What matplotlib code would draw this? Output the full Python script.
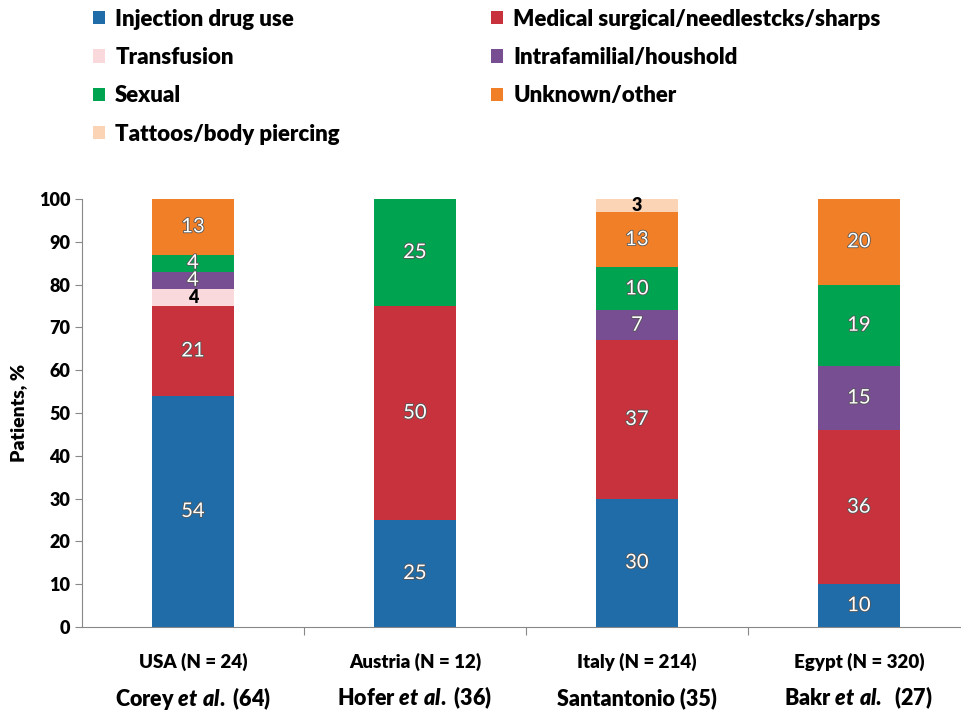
import numpy as np
import matplotlib
matplotlib.use("Agg")
import matplotlib.pyplot as plt
import matplotlib.patheffects as pe

plt.rcParams['font.family'] = ['Lato', 'DejaVu Sans']
plt.rcParams['mathtext.fontset'] = 'custom'
plt.rcParams['mathtext.rm'] = 'Lato:heavy'
plt.rcParams['mathtext.it'] = 'Lato:italic:heavy'

countries = ['USA (N = 24)', 'Austria (N = 12)', 'Italy (N = 214)', 'Egypt (N = 320)']
studies = [r'Corey $\mathit{et\ al.}$ (64)', r'Hofer $\mathit{et\ al.}$ (36)',
           'Santantonio (35)', r'Bakr $\mathit{et\ al.}$  (27)']

routes = ['Injection drug use', 'Medical surgical/needlestcks/sharps', 'Transfusion',
          'Intrafamilial/houshold', 'Sexual', 'Unknown/other', 'Tattoos/body piercing']
idu = [54, 25, 30, 10]
medical = [21, 50, 37, 36]
transfusion = [4, 0, 0, 0]
intrafamilial = [4, 0, 7, 15]
sexual = [4, 25, 10, 19]
unknown = [13, 0, 13, 20]
tattoos = [0, 0, 3, 0]
series = [idu, medical, transfusion, intrafamilial, sexual, unknown, tattoos]

colors = ['#1f6ca8', '#c8323c', '#f9d9dc', '#774e91', '#00a34f', '#f07f27', '#fbd4b6']
dark_label = [False, False, True, False, False, False, True]
BOLD = 'heavy'

fig = plt.figure(figsize=(9.61, 7.12), dpi=100)
ax = fig.add_axes([82/961, 85/712, 879/961, 428/712])

x = np.arange(len(countries))
bottom = np.zeros(len(countries))
bars = []
for vals, col, dark in zip(series, colors, dark_label):
    vals = np.array(vals, dtype=float)
    b = ax.bar(x, vals, 0.37, bottom=bottom, color=col)
    bars.append(b)
    for xi, v, b0 in zip(x, vals, bottom):
        if v <= 0:
            continue
        if dark:
            ax.text(xi, b0 + v / 2, f'{int(v)}', ha='center', va='center',
                    fontsize=13, fontweight=BOLD, color='black')
        else:
            ax.text(xi, b0 + v / 2, f'{int(v)}', ha='center', va='center',
                    fontsize=14.5, color='white',
                    path_effects=[pe.withStroke(linewidth=1.2, foreground='#555555')])
    bottom += vals

ax.set_xlim(-0.5, 3.46)
ax.set_ylim(0, 100)
ax.set_yticks(np.arange(0, 101, 10))
ax.tick_params(axis='y', labelsize=13, direction='out', length=5, color='#888888')
for lbl in ax.get_yticklabels():
    lbl.set_fontweight(BOLD)
ax.set_xticks([0.5, 1.5, 2.5])
ax.set_xticklabels([])
ax.tick_params(axis='x', direction='out', length=6, color='#888888')
for s in ['top', 'right']:
    ax.spines[s].set_visible(False)
for s in ['left', 'bottom']:
    ax.spines[s].set_color('#888888')

ax.set_ylabel('Patients, %', fontsize=14, fontweight=BOLD, labelpad=8)

for xi, c, s in zip(x, countries, studies):
    ax.text(xi, -8.2, c, ha='center', va='center', fontsize=13.5, fontweight=BOLD)
    ax.text(xi, -16.6, s, ha='center', va='center', fontsize=15.5, fontweight=BOLD)

order = [0, 2, 4, 6, 1, 3, 5]
fig.legend([bars[i] for i in order], [routes[i] for i in order], ncol=2,
           loc='upper left', bbox_to_anchor=(73/961, 1.016), frameon=False,
           prop={'size': 16, 'weight': BOLD}, handlelength=0.55, handleheight=0.55,
           handletextpad=0.45, columnspacing=6.8, labelspacing=0.78)

fig.savefig('out.png', dpi=100)
